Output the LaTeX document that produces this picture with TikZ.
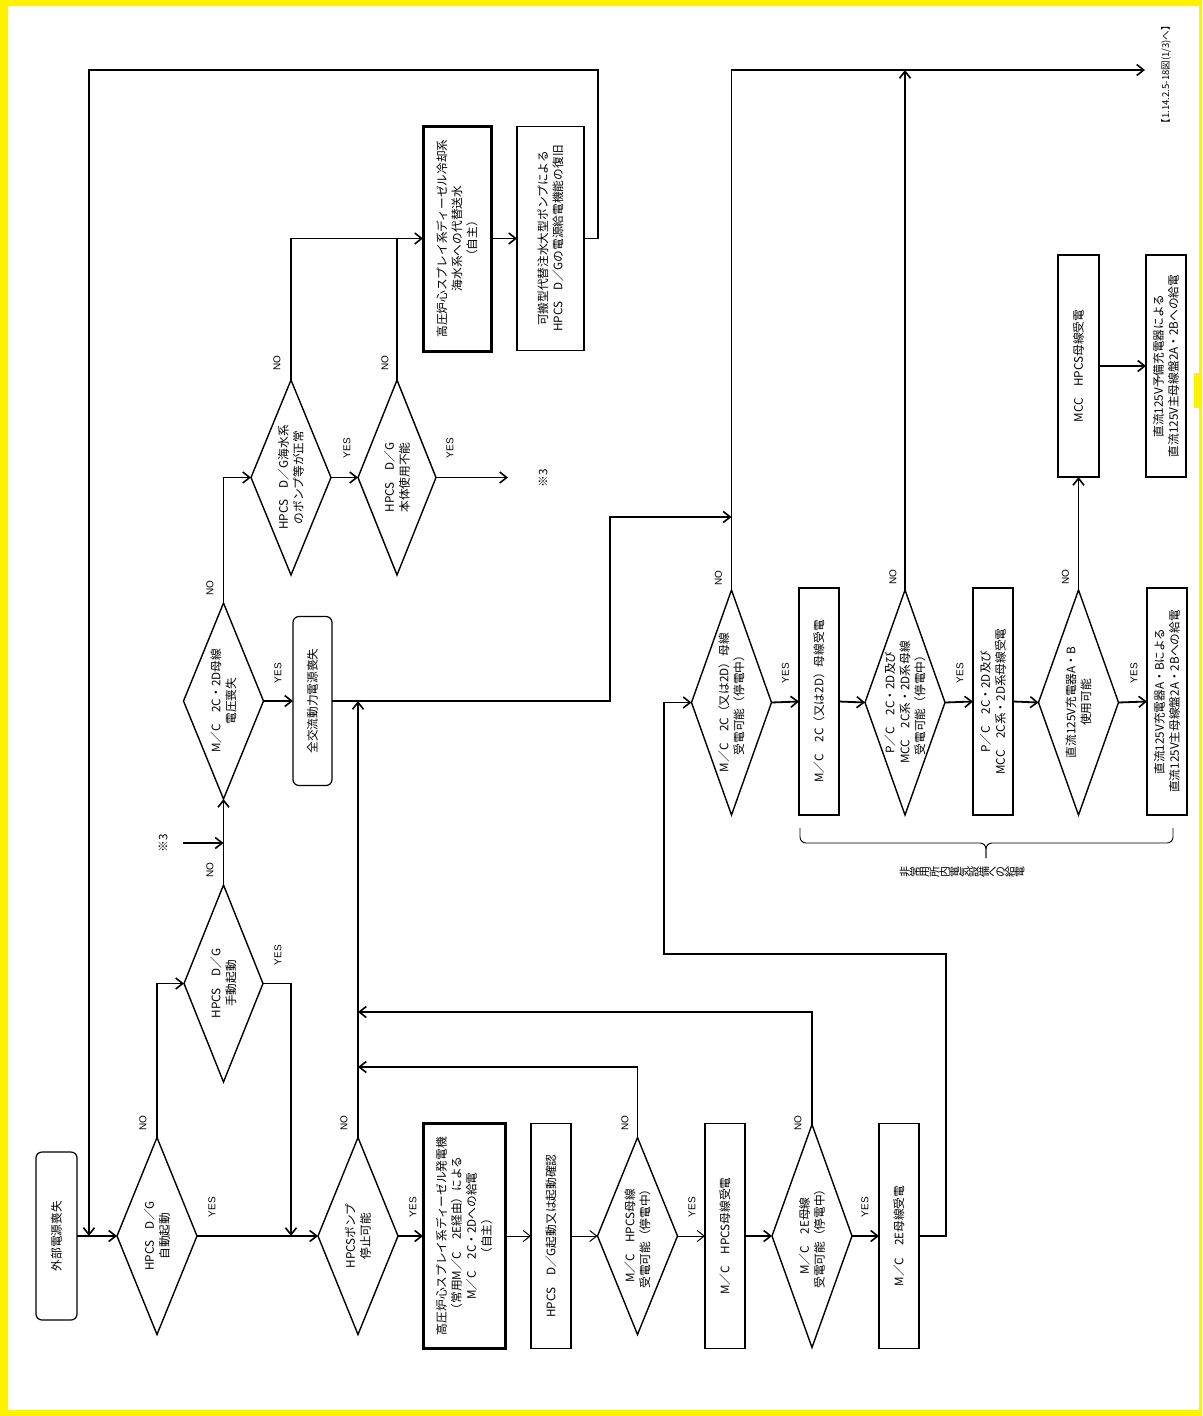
\documentclass[tikz,border=0pt]{standalone}
\usepackage{fontspec}
\setmainfont{Noto Sans CJK JP}
\newfontfamily\labfont{Liberation Sans}
\usetikzlibrary{shapes.geometric,arrows.meta}
\newcommand{\sidech}[1]{\rotatebox{90}{#1}}
\begin{document}
\begin{tikzpicture}[x=1pt,y=-1pt,
  every node/.style={inner sep=0pt,outer sep=0pt},
  bx/.style={draw,line width=1.2pt,rectangle},
  tbx/.style={draw,line width=3pt,rectangle},
  rbx/.style={draw,line width=1.2pt,rectangle,rounded corners=6pt},
  dia/.style={draw,line width=1.4pt,diamond},
  txt/.style={rotate=90,align=center,font=\fontsize{11.7}{15}\selectfont},
  lab/.style={rotate=90,font=\labfont\fontsize{10}{11}\selectfont},
  arr/.style={line width=1.8pt,-{Straight Barb[length=7pt,width=11pt,line width=1.6pt]}},
  tarr/.style={line width=0.9pt,-{Straight Barb[length=7pt,width=11pt,line width=1pt]}},
  ln/.style={line width=1.8pt}]
% background and frame
\fill[white] (0,0) rectangle (1202,1416);
\fill[yellow,even odd rule] (0,0) rectangle (1202,1416) (8,6) rectangle (1199,1410);
\fill[yellow] (1194,373) rectangle (1199,408);

% ---------- row 1 ----------
\node[rbx,minimum width=41pt,minimum height=168pt] (ext) at (56.5,1236) {};
\node[txt] (extt) at (ext) {外部電源喪失};

\node[dia,minimum width=80pt,minimum height=197pt] (d1) at (157,1236) {};
\node[txt] (d1t) at (d1) {HPCS　D／G\\自動起動};

\node[dia,minimum width=80pt,minimum height=197pt] (d2) at (358,1236) {};
\node[txt] (d2t) at (d2) {HPCSポンプ\\停止可能};

\node[tbx,minimum width=82pt,minimum height=225pt] (tb1) at (464,1236) {};
\node[txt] (tb1t) at (tb1) {高圧炉心スプレイ系ディーゼル発電機\\（常用M／C　2E経由）による\\M／C　2C・2Dへの給電\\（自主）};

\node[bx,minimum width=40pt,minimum height=225pt] (b2) at (551,1236) {};
\node[txt] (b2t) at (b2) {HPCS　D／G起動又は起動確認};

\node[dia,minimum width=80pt,minimum height=197pt] (d3) at (637.5,1236) {};
\node[txt] (d3t) at (d3) {M／C　HPCS母線\\受電可能（停電中）};

\node[bx,minimum width=40pt,minimum height=225pt] (b3) at (725,1236) {};
\node[txt] (b3t) at (b3) {M／C　HPCS母線受電};

\node[dia,minimum width=80pt,minimum height=223pt] (d4) at (812,1236) {};
\node[txt] (d4t) at (d4) {M／C　2E母線\\受電可能（停電中）};

\node[bx,minimum width=40pt,minimum height=225pt] (b4) at (899,1236) {};
\node[txt] (b4t) at (b4) {M／C　2E母線受電};

% ---------- left column ----------
\node[dia,minimum width=79pt,minimum height=197pt] (dm) at (223.5,983.5) {};
\node[txt] (dmt) at (dm) {HPCS　D／G\\手動起動};

\node[dia,minimum width=80pt,minimum height=196pt] (dmc) at (223.5,701) {};
\node[txt] (dmct) at (dmc) {M／C　2C・2D母線\\電圧喪失};

\node[rbx,minimum width=39pt,minimum height=169pt] (zk) at (312.5,701) {};
\node[txt] (zkt) at (zk) {全交流動力電源喪失};

\node[dia,minimum width=80pt,minimum height=195pt] (d8) at (291,477.5) {};
\node[txt] (d8t) at (d8) {HPCS　D／G海水系\\のポンプ等が正常};

\node[dia,minimum width=78pt,minimum height=195pt] (d9) at (397,477.5) {};
\node[txt] (d9t) at (d9) {HPCS　D／G\\本体使用不能};

\node[tbx,minimum width=68pt,minimum height=225pt] (tb2) at (457,238.5) {};
\node[txt] (tb2t) at (tb2) {高圧炉心スプレイ系ディーゼル冷却系\\海水系への代替送水\\（自主）};

\node[bx,minimum width=67pt,minimum height=224pt] (kh) at (550.5,238.5) {};
\node[txt] (kht) at (kh) {可搬型代替注水大型ポンプによる\\HPCS　D／Gの電源給電機能の復旧};

% ---------- row 2 ----------
\node[dia,minimum width=80pt,minimum height=225pt] (d5) at (731.5,702.5) {};
\node[txt] (d5t) at (d5) {M／C　2C（又は2D）母線\\受電可能（停電中）};

\node[bx,minimum width=40pt,minimum height=227pt] (b5) at (819,701.5) {};
\node[txt] (b5t) at (b5) {M／C　2C（又は2D）母線受電};

\node[dia,minimum width=80pt,minimum height=225pt] (d6) at (905,702.5) {};
\node[txt] (d6t) at (d6) {P／C　2C・2D及び\\MCC　2C系・2D系母線\\受電可能（停電中）};

\node[bx,minimum width=40pt,minimum height=227pt] (b6) at (993,701.5) {};
\node[txt] (b6t) at (b6) {P／C　2C・2D及び\\MCC　2C系・2D系母線受電};

\node[dia,minimum width=80pt,minimum height=225pt] (d7) at (1078.5,702.5) {};
\node[txt] (d7t) at (d7) {直流125V充電器A・B\\使用可能};

\node[bx,minimum width=40pt,minimum height=227pt] (b7) at (1167,701.5) {};
\node[txt] (b7t) at (b7) {直流125V充電器A・Bによる\\直流125V主母線盤2A・2Bへの給電};

\node[bx,minimum width=41pt,minimum height=222pt] (mcc) at (1078.5,366) {};
\node[txt] (mcct) at (mcc) {MCC　HPCS母線受電};

\node[bx,minimum width=40pt,minimum height=222pt] (yb) at (1166,366) {};
\node[txt] (ybt) at (yb) {直流125V予備充電器による\\直流125V主母線盤2A・2Bへの給電};

% ---------- coordinates ----------
\coordinate (j1) at (89,1236);
\coordinate (loopL) at (89,70);
\coordinate (loopR) at (598,70);
\coordinate (j2) at (291,1236);
\coordinate (j4) at (358,701);
\coordinate (j5) at (358,1067);
\coordinate (j6) at (358,1012);
\coordinate (bend1) at (610,701);
\coordinate (j3) at (731.5,517);
\coordinate (c1) at (664,954);
\coordinate (outp) at (1145,70);
\coordinate (j7) at (905,70);
\coordinate (j8) at (397,238.5);
\coordinate (s3a) at (183,843);
\coordinate (s3b) at (223.5,843);
\coordinate (s3c) at (508,477.5);

% ---------- connectors ----------
\draw[arr] (ext.east) -- (d1.west);
\draw[arr] (kh.east) -| (loopR) -- (loopL) -- (j1);
\draw[arr] (d1.east) -- (d2.west);
\draw[arr] (d1.north) |- (dm.west);
\draw[arr] (dm.east) -| (j2);
\draw[arr] (dm.north) -- (dmc.south);
\draw[arr] (s3a) -- (s3b);
\draw[arr] (dmc.east) -- (zk.west);
\draw[arr] (zk.east) -- (bend1) |- (j3);
\draw[arr] (d2.north) -- (j4);
\draw[arr] (d2.east) -- (tb1.west);
\draw[tarr] (tb1.east) -- (b2.west);
\draw[tarr] (b2.east) -- (d3.west);
\draw[tarr] (d3.east) -- (b3.west);
\draw[arr] (b3.east) -- (d4.west);
\draw[arr] (d4.east) -- (b4.west);
\draw[arr] (d3.north) |- (j5);
\draw[arr] (d4.north) |- (j6);
\draw[arr] (b4.east) -- ++(27,0) |- (c1) |- (d5.west);
\draw[arr] (dmc.north) |- (d8.west);
\draw[arr] (d8.east) -- (d9.west);
\draw[arr] (d8.north) |- (tb2.west);
\draw[ln] (d9.north) -- (j8);
\draw[arr] (d9.east) -- (s3c);
\draw[arr] (tb2.east) -- (kh.west);
\draw[arr] (d5.east) -- (b5.west);
\draw[arr] (b5.east) -- (d6.west);
\draw[arr] (d6.east) -- (b6.west);
\draw[arr] (b6.east) -- (d7.west);
\draw[arr] (d7.east) -- (b7.west);
\draw[arr] (d5.north) |- (outp);
\draw[arr] (d6.north) -- (j7);
\draw[arr] (d7.north) -- (mcc.south);
\draw[arr] (mcc.east) -- (yb.west);

% brace
\draw[line width=0.9pt,rounded corners=6pt] (800,828) -- (800,843) -- (986,843) -- (986,858);
\draw[line width=0.9pt,rounded corners=6pt] (1173,828) -- (1173,843) -- (986,843) -- (986,858);
\node[font=\fontsize{11}{13}\selectfont] (brl) at (962,872) {\sidech{非}\sidech{常}\sidech{用}\sidech{所}\sidech{内}\sidech{電}\sidech{気}\sidech{設}\sidech{備}\sidech{へ}\sidech{の}\sidech{給}\sidech{電}};

% notes
\node[txt] (n3a) at (163,843) {※3};
\node[txt] (n3b) at (543,478) {※3};
\node[rotate=90,anchor=west,font=\fontsize{9.5}{11}\selectfont] (nxt) at (1166,128) {【1.14.2.5-18図(1/3)へ】};

% YES / NO labels
\node[lab] (n1) at (143,1123) {NO};
\node[lab] (y1) at (212,1207) {YES};
\node[lab] (n2) at (344,1123) {NO};
\node[lab] (y2) at (413,1207) {YES};
\node[lab] (n3) at (625,1123) {NO};
\node[lab] (y3) at (692,1207) {YES};
\node[lab] (n4) at (798,1123) {NO};
\node[lab] (y4) at (865,1207) {YES};
\node[lab] (nm) at (210,870) {NO};
\node[lab] (ym) at (278,955) {YES};
\node[lab] (nmc) at (210,588) {NO};
\node[lab] (ymc) at (278,673) {YES};
\node[lab] (n8) at (277,363) {NO};
\node[lab] (y8) at (347,448) {YES};
\node[lab] (n9) at (385,363) {NO};
\node[lab] (y9) at (450,448) {YES};
\node[lab] (n5) at (718.5,578) {NO};
\node[lab] (y5) at (785.5,673) {YES};
\node[lab] (n6) at (893,577) {NO};
\node[lab] (y6) at (960,673) {YES};
\node[lab] (n7) at (1065.5,577) {NO};
\node[lab] (y7) at (1134,673) {YES};
\end{tikzpicture}
\end{document}
